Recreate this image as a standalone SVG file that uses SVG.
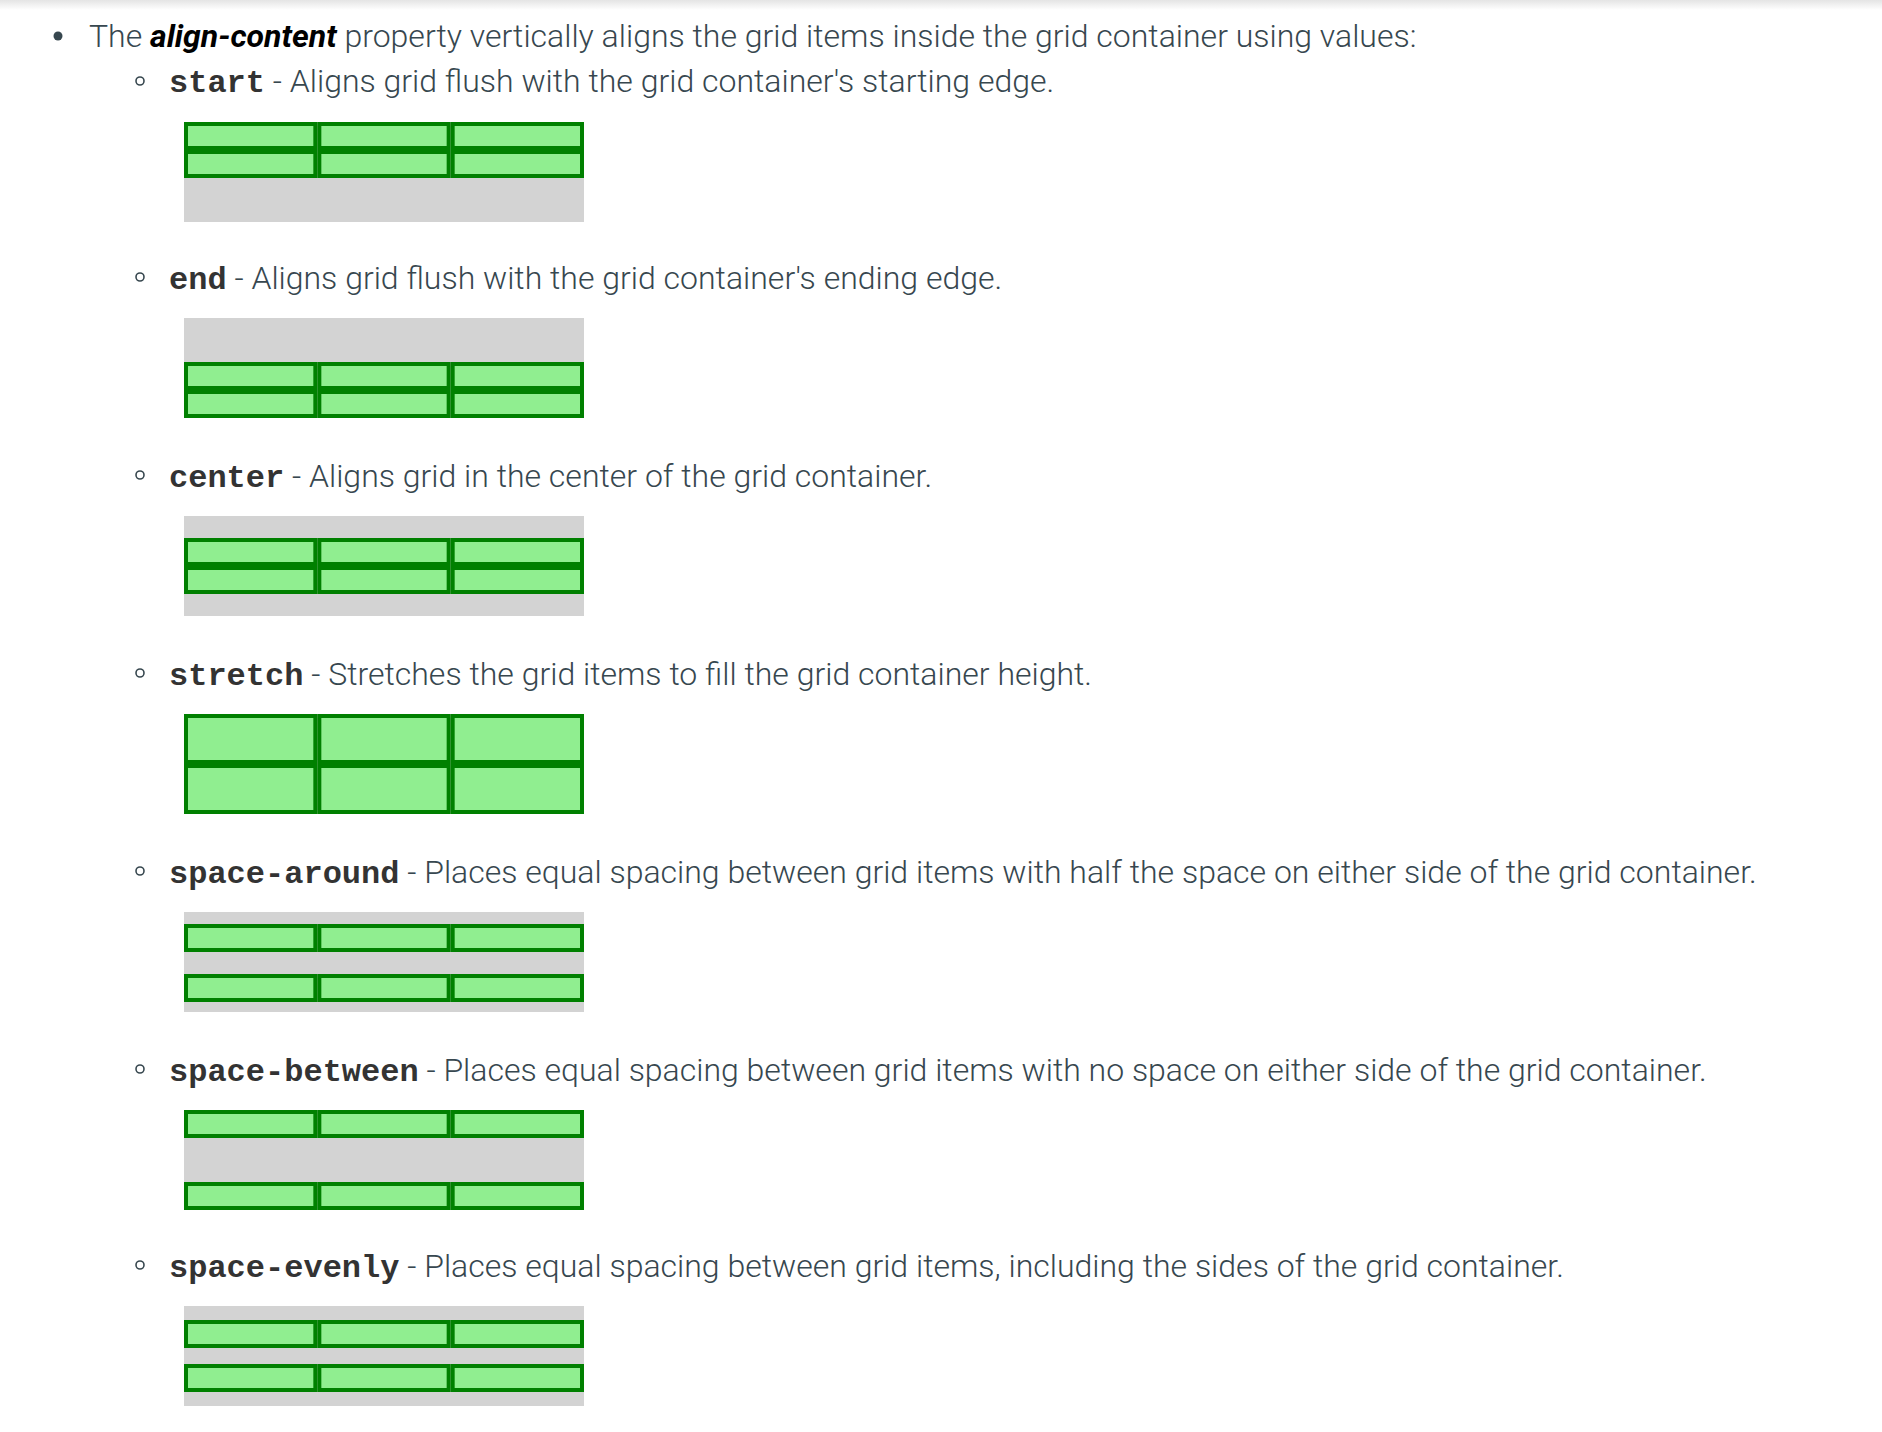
<svg xmlns="http://www.w3.org/2000/svg" xmlns:xlink="http://www.w3.org/1999/xlink" width="1882" height="1432" viewBox="0 0 1882 1432">
<style>
.t{font-family:Roboto,"Liberation Sans",sans-serif;font-weight:300;font-size:32px;fill:#37474f}
.b{font-weight:700;font-style:italic;fill:#000}
.c{font-family:"Liberation Mono","Courier New",monospace;font-weight:700;font-size:32px;fill:#333}
.box{fill:#d3d3d3}
.it{fill:#90ee90;stroke:#008000;stroke-width:4}
.hb{fill:none;stroke:#37474f;stroke-width:1.6}
</style>
<defs>
<linearGradient id="sh" x1="0" y1="0" x2="0" y2="1">
<stop offset="0" stop-color="#e4e4e4"/>
<stop offset="1" stop-color="#ffffff"/>
</linearGradient>
<g id="row28">
<rect class="it" x="2" y="2" width="129.33" height="24"/>
<rect class="it" x="135.33" y="2" width="129.33" height="24"/>
<rect class="it" x="268.67" y="2" width="129.33" height="24"/>
</g>
<g id="row50">
<rect class="it" x="2" y="2" width="129.33" height="46"/>
<rect class="it" x="135.33" y="2" width="129.33" height="46"/>
<rect class="it" x="268.67" y="2" width="129.33" height="46"/>
</g>
</defs>
<rect x="0" y="0" width="1882" height="1432" fill="#fff"/>
<rect x="0" y="0" width="1882" height="10" fill="url(#sh)"/>

<g id="intro">
<circle cx="58" cy="36" r="4.5" fill="#37474f"/>
<text class="t" x="89" y="47">The <tspan class="b">align-content</tspan> property vertically aligns the grid items inside the grid container using values:</text>
</g>

<g id="start">
<circle class="hb" cx="140" cy="81" r="4"/>
<text class="t" x="169" y="92"><tspan class="c">start</tspan> - Aligns grid flush with the grid container's starting edge.</text>
<rect class="box" x="184" y="122" width="400" height="100"/>
<use xlink:href="#row28" x="184" y="122"/>
<use xlink:href="#row28" x="184" y="150"/>
</g>

<g id="end">
<circle class="hb" cx="140" cy="277" r="4"/>
<text class="t" x="169" y="289"><tspan class="c">end</tspan> - Aligns grid flush with the grid container's ending edge.</text>
<rect class="box" x="184" y="318" width="400" height="100"/>
<use xlink:href="#row28" x="184" y="362"/>
<use xlink:href="#row28" x="184" y="390"/>
</g>

<g id="center">
<circle class="hb" cx="140" cy="475" r="4"/>
<text class="t" x="169" y="487"><tspan class="c">center</tspan> - Aligns grid in the center of the grid container.</text>
<rect class="box" x="184" y="516" width="400" height="100"/>
<use xlink:href="#row28" x="184" y="538"/>
<use xlink:href="#row28" x="184" y="566"/>
</g>

<g id="stretch">
<circle class="hb" cx="140" cy="673" r="4"/>
<text class="t" x="169" y="685"><tspan class="c">stretch</tspan> - Stretches the grid items to fill the grid container height.</text>
<rect class="box" x="184" y="714" width="400" height="100"/>
<use xlink:href="#row50" x="184" y="714"/>
<use xlink:href="#row50" x="184" y="764"/>
</g>

<g id="space-around">
<circle class="hb" cx="140" cy="871" r="4"/>
<text class="t" x="169" y="883"><tspan class="c">space-around</tspan> - Places equal spacing between grid items with half the space on either side of the grid container.</text>
<rect class="box" x="184" y="912" width="400" height="100"/>
<use xlink:href="#row28" x="184" y="924"/>
<use xlink:href="#row28" x="184" y="974"/>
</g>

<g id="space-between">
<circle class="hb" cx="140" cy="1069" r="4"/>
<text class="t" x="169" y="1081"><tspan class="c">space-between</tspan> - Places equal spacing between grid items with no space on either side of the grid container.</text>
<rect class="box" x="184" y="1110" width="400" height="100"/>
<use xlink:href="#row28" x="184" y="1110"/>
<use xlink:href="#row28" x="184" y="1182"/>
</g>

<g id="space-evenly">
<circle class="hb" cx="140" cy="1265" r="4"/>
<text class="t" x="169" y="1277"><tspan class="c">space-evenly</tspan> - Places equal spacing between grid items, including the sides of the grid container.</text>
<rect class="box" x="184" y="1306" width="400" height="100"/>
<use xlink:href="#row28" x="184" y="1320"/>
<use xlink:href="#row28" x="184" y="1364"/>
</g>

<g id="connectors"></g>
</svg>
